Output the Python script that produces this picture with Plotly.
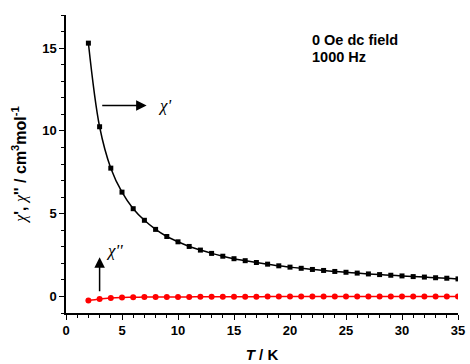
import plotly.graph_objects as go

T = list(range(2, 36))
chi1 = [15.3, 10.25, 7.75, 6.3, 5.3, 4.6, 4.05, 3.62, 3.3, 3.02, 2.8, 2.6, 2.43, 2.28,
        2.16, 2.05, 1.95, 1.85, 1.77, 1.7, 1.63, 1.57, 1.51, 1.46, 1.41, 1.36, 1.32,
        1.28, 1.24, 1.2, 1.17, 1.13, 1.1, 1.06]
chi2 = [-0.25, -0.15, -0.09, -0.06, -0.05, -0.04, -0.04, -0.03, -0.03, -0.03, -0.02,
        -0.02, -0.02, -0.02, -0.02, -0.02, -0.01, -0.01, -0.01, -0.01, -0.01, -0.01,
        -0.01, -0.01, -0.01, 0.0, 0.0, 0.0, 0.0, 0.0, 0.0, 0.0, 0.0, 0.0]
info_lines = ["0 Oe dc field", "1000 Hz"]

FONT = "Liberation Sans, Arial, sans-serif"
SERIF = "Liberation Serif, Times New Roman, serif"

fig = go.Figure()
fig.add_trace(go.Scatter(x=T, y=chi1, mode="lines+markers",
                         line=dict(color="black", width=1.5, shape="spline"),
                         marker=dict(symbol="square", size=5, color="black")))
fig.add_trace(go.Scatter(x=T, y=chi2, mode="lines+markers",
                         line=dict(color="red", width=1.5, shape="spline"),
                         marker=dict(symbol="circle", size=6, color="red")))

axis_common = dict(showline=True, linecolor="black", linewidth=1.5, ticks="outside",
                   ticklen=5, tickwidth=1.2, tickcolor="black", showgrid=False,
                   zeroline=False, mirror=False, automargin=False,
                   tickfont=dict(family=FONT, size=13, color="black", weight="bold"))

chi = "<span style='font-family:Liberation Serif;font-weight:normal'><i>χ</i></span>"

fig.update_xaxes(range=[0, 35], dtick=5, tick0=0,
                 minor=dict(dtick=1, ticklen=3, ticks="outside", tickcolor="black", tickwidth=1),
                 title=dict(text="<b><i>T</i> / K</b>", font=dict(family=FONT, size=15, color="black"),
                            standoff=12),
                 **axis_common)
fig.update_yaxes(range=[-1, 17], dtick=5, tick0=0,
                 minor=dict(dtick=1, ticklen=3, ticks="outside", tickcolor="black", tickwidth=1),
                 title=dict(text=f"<b>{chi}', {chi}'' / cm<sup>3</sup>mol<sup>-1</sup></b>",
                            font=dict(family=FONT, size=16, color="black"), standoff=12),
                 **axis_common)

fig.add_annotation(x=7.2, y=11.54, ax=3.1, ay=11.54, xref="x", yref="y", axref="x", ayref="y",
                   showarrow=True, arrowhead=2, arrowsize=1.4, arrowwidth=1.5, arrowcolor="black",
                   text=" ", font=dict(size=1), standoff=0, startstandoff=0)
fig.add_annotation(x=8.0, y=11.54, xref="x", yref="y", showarrow=False, xanchor="left",
                   text="<i>χ'</i>", font=dict(family=SERIF, size=17, color="black"))
fig.add_annotation(x=3.0, y=2.36, ax=3.0, ay=0.2, xref="x", yref="y", axref="x", ayref="y",
                   showarrow=True, arrowhead=2, arrowsize=1.4, arrowwidth=1.5, arrowcolor="black",
                   text=" ", font=dict(size=1), standoff=0, startstandoff=0)
fig.add_annotation(x=3.35, y=2.75, xref="x", yref="y", showarrow=False, xanchor="left",
                   text="<i>χ''</i>", font=dict(family=SERIF, size=17, color="black"))
for line, yp in zip(info_lines, [0.916, 0.859]):
    fig.add_annotation(x=0.623, y=yp, xref="paper", yref="paper", showarrow=False, xanchor="left",
                       yanchor="middle", text=f"<b>{line}</b>",
                       font=dict(family=FONT, size=14.5, color="black"))

fig.update_layout(width=470, height=364, margin=dict(l=66, r=12, t=15, b=51),
                  plot_bgcolor="white", paper_bgcolor="white", showlegend=False)

fig.write_html("out.html", config={"displayModeBar": False},
               post_script="document.body.style.margin='0';document.body.style.overflow='hidden';")
